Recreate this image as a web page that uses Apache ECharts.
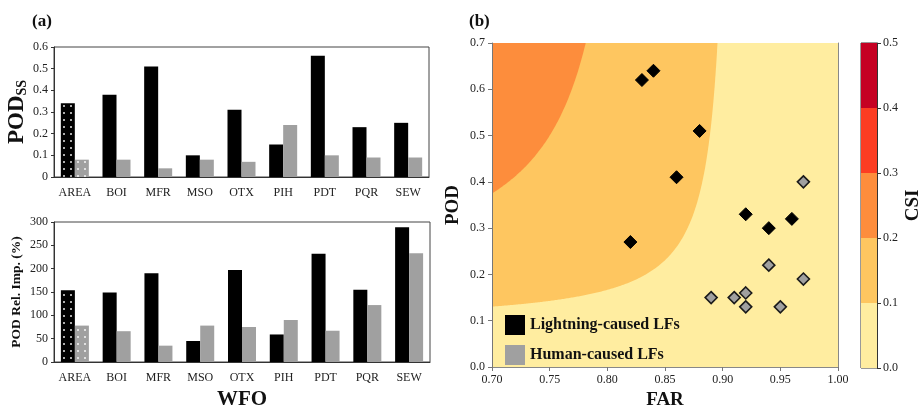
<!DOCTYPE html>
<html>
<head>
<meta charset="utf-8">
<title>POD / FAR / CSI</title>
<script src="https://cdn.jsdelivr.net/npm/echarts@6/dist/echarts.min.js"></script>
<style>
	html, body { margin: 0; padding: 0; background: #fff; }
	#chart { width: 921px; height: 409px; }
</style>
</head>
<body>
<div id="chart"></div>
<script>
var wfo = ['AREA', 'BOI', 'MFR', 'MSO', 'OTX', 'PIH', 'PDT', 'PQR', 'SEW'];
var podSsLightning = [0.34, 0.38, 0.51, 0.10, 0.31, 0.15, 0.56, 0.23, 0.25];
var podSsHuman = [0.08, 0.08, 0.04, 0.08, 0.07, 0.24, 0.10, 0.09, 0.09];
var relImpLightning = [154, 149, 190, 45, 197, 59, 232, 155, 289];
var relImpHuman = [78, 66, 35, 78, 75, 90, 67, 122, 233];

// [FAR, POD]
var lightningPts = [[0.83, 0.62], [0.84, 0.64], [0.88, 0.51], [0.86, 0.41], [0.82, 0.27], [0.92, 0.33], [0.94, 0.30], [0.96, 0.32]];
var humanPts = [[0.97, 0.40], [0.94, 0.22], [0.97, 0.19], [0.89, 0.15], [0.91, 0.15], [0.92, 0.16], [0.92, 0.13], [0.95, 0.13]];

var csiTicks = [0.0, 0.1, 0.2, 0.3, 0.4, 0.5];
var csiColors = ['#ffeda0', '#fec660', '#fd8d3c', '#fc3d22', '#c50123'];

var serif = '"Liberation Serif", "DejaVu Serif", serif';
var black = '#000';
var gray = '#a0a0a0';

// POD on the isoline CSI = c  (CSI = 1 / (1/POD + 1/(1-FAR) - 1))
function csiLine(c, far) {
	var d = 1 / c + 1 - 1 / (1 - far);
	return d > 0 ? 1 / d : Infinity;
}

function dots(col) {
	return { symbol: 'circle', symbolSize: 1, color: col, dashArrayX: [1.3, 4.5], dashArrayY: [1.3, 5] };
}

function barData(vals, withDots) {
	return vals.map(function (v, i) {
		if (i === 0 && withDots) return { value: v, itemStyle: { decal: dots('rgba(255,255,255,0.9)') } };
		return v;
	});
}

var tickLbl = { fontFamily: serif, fontSize: 12, color: '#222' };

var chart = echarts.init(document.getElementById('chart'));
var option = {
	animation: false,
	title: [
		{ text: '(a)', left: 27, top: 8, textStyle: { fontFamily: serif, fontSize: 17, fontWeight: 'bold', color: '#111' } },
		{ text: '(b)', left: 464, top: 8, textStyle: { fontFamily: serif, fontSize: 17, fontWeight: 'bold', color: '#111' } }
	],
	grid: [
		{ left: 54, top: 47, width: 375, height: 130, show: true, borderColor: '#444', outerBoundsMode: 'none' },
		{ left: 54, top: 222, width: 376, height: 140, show: true, borderColor: '#444', outerBoundsMode: 'none' },
		{ left: 492, top: 43, width: 346, height: 324, show: true, backgroundColor: csiColors[0], borderWidth: 0, outerBoundsMode: 'none' },
		{ left: 861, top: 43, width: 16, height: 325, show: true, borderColor: '#333', borderWidth: 1, outerBoundsMode: 'none' }
	],
	legend: {
		left: 500, top: 310, orient: 'vertical', itemWidth: 20, itemHeight: 20, itemGap: 10,
		textStyle: { fontFamily: serif, fontSize: 16, fontWeight: 'bold', color: '#111' },
		data: [
			{ name: 'Lightning-caused LFs', icon: 'rect', itemStyle: { color: black, borderWidth: 0 } },
			{ name: 'Human-caused LFs', icon: 'rect', itemStyle: { color: gray, borderWidth: 0 } }
		]
	},
	xAxis: [
		{ type: 'category', gridIndex: 0, data: wfo, axisTick: { show: false }, axisLine: { lineStyle: { color: '#333' } }, axisLabel: Object.assign({ margin: 10, interval: 0 }, tickLbl) },
		{ type: 'category', gridIndex: 1, data: wfo, axisTick: { show: false }, axisLine: { lineStyle: { color: '#333' } }, axisLabel: Object.assign({ margin: 10, interval: 0 }, tickLbl),
			name: 'WFO', nameLocation: 'middle', nameGap: 27, nameTextStyle: { fontFamily: serif, fontSize: 21, fontWeight: 'bold', color: '#111' } },
		{ type: 'value', gridIndex: 2, min: 0.7, max: 1.0, interval: 0.05, z: 10, splitLine: { show: false },
			axisLine: { lineStyle: { color: '#777' } }, axisTick: { show: true, length: 4, lineStyle: { color: '#777' } },
			axisLabel: Object.assign({ margin: 7, formatter: function (v) { return v.toFixed(2); } }, tickLbl),
			name: 'FAR', nameLocation: 'middle', nameGap: 21, nameTextStyle: { fontFamily: serif, fontSize: 19, fontWeight: 'bold', color: '#111' } },
		{ type: 'value', gridIndex: 2, position: 'top', min: 0.7, max: 1.0, z: 10, splitLine: { show: false },
			axisLine: { lineStyle: { color: '#888' } }, axisTick: { show: false }, axisLabel: { show: false } },
		{ type: 'category', gridIndex: 3, data: ['CSI'], show: false }
	],
	yAxis: [
		{ type: 'value', gridIndex: 0, min: 0, max: 0.6, interval: 0.1, splitLine: { show: false },
			axisLine: { show: true, lineStyle: { color: '#333' } }, axisTick: { show: true, length: 3, lineStyle: { color: '#333' } },
			axisLabel: Object.assign({ margin: 6 }, tickLbl),
			name: '{a|POD}{b|SS}', nameLocation: 'middle', nameGap: 25, nameRotate: 90,
			nameTextStyle: { rich: {
				a: { fontFamily: serif, fontSize: 23, fontWeight: 'bold', color: '#111' },
				b: { fontFamily: serif, fontSize: 14, fontWeight: 'bold', color: '#111', verticalAlign: 'bottom', padding: [10, 0, 0, 0] }
			} } },
		{ type: 'value', gridIndex: 1, min: 0, max: 300, interval: 50, splitLine: { show: false },
			axisLine: { show: true, lineStyle: { color: '#333' } }, axisTick: { show: true, length: 3, lineStyle: { color: '#333' } },
			axisLabel: Object.assign({ margin: 6 }, tickLbl),
			name: 'POD Rel. Imp. (%)', nameLocation: 'middle', nameGap: 30, nameRotate: 90,
			nameTextStyle: { fontFamily: serif, fontSize: 13.5, fontWeight: 'bold', color: '#111' } },
		{ type: 'value', gridIndex: 2, min: 0, max: 0.7, interval: 0.1, z: 10, splitLine: { show: false },
			axisLine: { show: true, lineStyle: { color: '#777' } }, axisTick: { show: true, length: 4, lineStyle: { color: '#777' } },
			axisLabel: Object.assign({ margin: 7, formatter: function (v) { return v.toFixed(1); } }, tickLbl),
			name: 'POD', nameLocation: 'middle', nameGap: 29, nameRotate: 90,
			nameTextStyle: { fontFamily: serif, fontSize: 19, fontWeight: 'bold', color: '#111' } },
		{ type: 'value', gridIndex: 2, position: 'right', min: 0, max: 0.7, z: 10, splitLine: { show: false },
			axisLine: { show: true, lineStyle: { color: '#888' } }, axisTick: { show: false }, axisLabel: { show: false } },
		{ type: 'value', gridIndex: 3, position: 'right', min: 0, max: 0.5, interval: 0.1, splitLine: { show: false },
			axisLine: { show: true, lineStyle: { color: '#333' } }, axisTick: { show: true, length: 4, lineStyle: { color: '#333' } },
			axisLabel: Object.assign({ margin: 6, formatter: function (v) { return v.toFixed(1); } }, tickLbl),
			name: 'CSI', nameLocation: 'middle', nameGap: 27, nameRotate: 90,
			nameTextStyle: { fontFamily: serif, fontSize: 19, fontWeight: 'bold', color: '#111' } }
	],
	series: [
		{ name: 'pod-l', type: 'bar', xAxisIndex: 0, yAxisIndex: 0, barWidth: 14, barGap: '0%', itemStyle: { color: black }, data: barData(podSsLightning, true) },
		{ name: 'pod-h', type: 'bar', xAxisIndex: 0, yAxisIndex: 0, barWidth: 14, barGap: '0%', itemStyle: { color: gray }, data: barData(podSsHuman, true) },
		{ name: 'imp-l', type: 'bar', xAxisIndex: 1, yAxisIndex: 1, barWidth: 14, barGap: '0%', itemStyle: { color: black }, data: barData(relImpLightning, true) },
		{ name: 'imp-h', type: 'bar', xAxisIndex: 1, yAxisIndex: 1, barWidth: 14, barGap: '0%', itemStyle: { color: gray }, data: barData(relImpHuman, true) },
		{
			name: 'csi-field', type: 'custom', xAxisIndex: 2, yAxisIndex: 2, silent: true, clip: true, z: 1,
			data: csiTicks.slice(1, 5).map(function (c, i) { return [c, i + 1]; }),
			encode: { x: -1, y: -1 },
			renderItem: function (params, api) {
				var c = api.value(0), idx = api.value(1);
				var x0 = 0.7, top = 0.7;
				if (csiLine(c, x0) >= top) return;
				var pts = [api.coord([x0, top])];
				for (var f = x0; f < 1; f += 0.001) {
					var p = csiLine(c, f);
					if (p >= top) break;
					pts.push(api.coord([f, p]));
				}
				var fTop = 1 - 1 / (1 / c + 1 - 1 / top);
				pts.push(api.coord([fTop, top]));
				return { type: 'polygon', shape: { points: pts }, style: { fill: csiColors[idx] } };
			}
		},
		{ name: 'Lightning-caused LFs', type: 'scatter', xAxisIndex: 2, yAxisIndex: 2, symbol: 'diamond', symbolSize: 13, z: 5,
			itemStyle: { color: black, borderColor: black, borderWidth: 1, opacity: 1 }, data: lightningPts },
		{ name: 'Human-caused LFs', type: 'scatter', xAxisIndex: 2, yAxisIndex: 2, symbol: 'diamond', symbolSize: 12, z: 5,
			itemStyle: { color: gray, borderColor: '#1a1a1a', borderWidth: 1.6, opacity: 1 }, data: humanPts }
	].concat(csiColors.map(function (col, i) {
		return { name: 'csi-' + i, type: 'bar', xAxisIndex: 4, yAxisIndex: 4, stack: 'csi', barWidth: '100%', silent: true,
			itemStyle: { color: col }, data: [+(csiTicks[i + 1] - csiTicks[i]).toFixed(2)] };
	}))
};
chart.setOption(option);
</script>
</body>
</html>
